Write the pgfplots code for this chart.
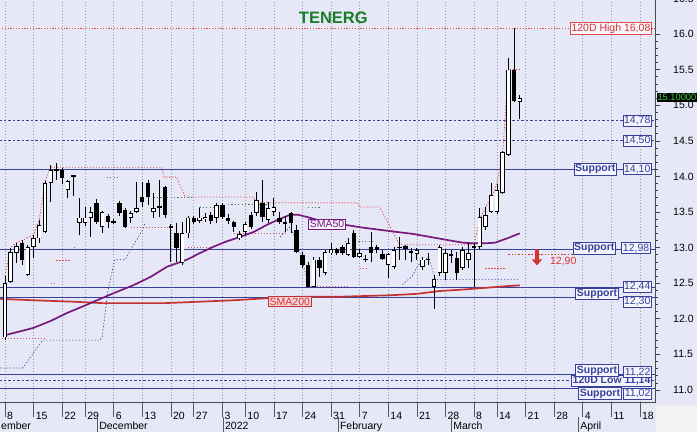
\documentclass[border=0pt]{standalone}
\usepackage{fontspec}
\setmainfont{Liberation Sans}
\usepackage{pgfplots}
\usepackage{pgfplotstable}
\pgfplotsset{compat=1.18}
\usetikzlibrary{arrows.meta}

\definecolor{bgcol}{RGB}{230,232,248}
\definecolor{supblue}{RGB}{55,65,155}
\definecolor{hired}{RGB}{225,75,75}
\definecolor{labred}{RGB}{215,50,50}
\definecolor{smapurple}{RGB}{120,25,125}
\definecolor{smared}{RGB}{195,50,50}
\definecolor{gridgray}{RGB}{150,150,165}
\definecolor{titlegreen}{RGB}{25,125,40}
\definecolor{dotgreen}{RGB}{50,135,60}
\definecolor{cornergray}{RGB}{242,242,245}

\newcommand{\lbl}{\fontsize{10.5}{12}\selectfont}

\pgfplotstableread{
x o h l c
0 11.74 12.60 11.70 12.50
1 12.52 13.00 12.50 12.94
2 12.93 13.07 12.78 13.02
3 13.06 13.10 12.75 12.83
4 12.62 13.03 12.60 13.01
5 13.01 13.18 12.85 13.13
6 13.13 13.39 13.06 13.32
7 13.22 13.93 13.20 13.91
8 13.91 14.16 13.64 14.09
9 14.10 14.19 13.95 14.08
10 14.09 14.12 13.90 13.98
11 13.81 13.95 13.70 13.93
12 14.01 14.02 13.72 14.00
13 13.35 13.70 13.18 13.42
14 13.35 13.57 13.30 13.42
15 13.42 13.57 13.15 13.50
16 13.63 13.68 13.33 13.36
17 13.29 13.52 13.20 13.50
18 13.44 13.47 13.28 13.36
19 13.37 13.40 13.33 13.36
20 13.63 13.65 13.45 13.49
21 13.53 13.55 13.27 13.29
22 13.42 13.52 13.35 13.49
23 13.50 13.92 13.48 13.55
24 13.71 13.92 13.57 13.64
25 13.91 13.95 13.60 13.71
26 13.50 13.77 13.42 13.56
27 13.57 13.95 13.43 13.58
28 13.85 13.87 13.42 13.46
29 13.31 13.33 12.80 13.27
30 13.20 13.35 12.80 12.99
31 12.78 13.36 12.76 13.20
32 13.20 13.44 13.13 13.42
33 13.42 13.45 13.33 13.36
34 13.38 13.56 13.35 13.42
35 13.40 13.48 13.36 13.43
36 13.46 13.50 13.33 13.37
37 13.42 13.62 13.35 13.60
38 13.60 13.62 13.40 13.43
39 13.42 13.47 13.33 13.37
40 13.36 13.38 13.22 13.29
41 13.13 13.23 13.10 13.19
42 13.22 13.36 13.18 13.33
43 13.46 13.50 13.26 13.29
44 13.49 13.78 13.45 13.67
45 13.63 13.95 13.36 13.43
46 13.39 13.64 13.35 13.56
47 13.50 13.70 13.45 13.57
48 13.42 13.50 13.33 13.36
49 13.35 13.44 13.22 13.34
50 13.49 13.50 13.20 13.35
51 13.25 13.32 12.92 12.94
52 12.90 12.94 12.72 12.76
53 12.76 12.80 12.44 12.45
54 12.45 12.87 12.44 12.83
55 12.83 12.87 12.59 12.71
56 12.64 12.96 12.62 12.94
57 12.92 13.06 12.90 12.98
58 12.98 13.00 12.90 12.93
59 13.01 13.03 12.90 12.93
60 12.90 13.13 12.88 13.06
61 13.20 13.25 12.85 12.87
62 12.87 12.98 12.85 12.92
63 12.84 12.90 12.80 12.83
64 13.01 13.22 12.80 12.92
65 13.01 13.03 12.92 12.96
66 12.91 12.96 12.82 12.84
67 12.76 12.93 12.57 12.91
68 12.73 13.01 12.70 12.97
69 13.00 13.15 12.83 13.01
70 13.02 13.04 12.83 12.98
71 12.95 13.00 12.80 12.94
72 12.91 13.00 12.83 12.97
73 12.73 12.87 12.69 12.83
74 12.83 12.92 12.76 12.84
75 12.45 12.61 12.14 12.56
76 12.64 13.04 12.60 13.01
77 12.64 12.98 12.55 12.92
78 12.90 12.97 12.78 12.90
79 12.85 12.94 12.55 12.64
80 12.71 13.01 12.68 12.97
81 12.83 13.06 12.71 12.92
82 13.00 13.05 12.45 13.02
83 13.01 13.56 12.98 13.43
84 13.29 13.57 13.25 13.46
85 13.50 13.91 13.48 13.74
86 13.50 13.90 13.47 13.81
87 13.77 14.36 13.75 14.34
88 14.30 15.66 14.28 15.50
89 15.50 16.08 15.05 15.06
90 15.05 15.15 14.80 15.10
}\candles

\tikzset{
  lab/.style={draw=supblue, fill=white!55!bgcol, text=supblue, inner sep=1.2pt, line width=0.7pt, font=\lbl},
  labb/.style={lab, font=\lbl\bfseries},
}

\begin{document}
\begin{tikzpicture}
\useasboundingbox (0pt,0pt) rectangle (697pt,432pt);
\fill[bgcol] (0pt,0pt) rectangle (697pt,432pt);
\fill[cornergray] (655.5pt,0pt) rectangle (697pt,27pt);
\begin{axis}[
  at={(0pt,30pt)}, anchor=south west,
  scale only axis, width=655pt, height=402pt,
  xmin=-0.87, xmax=113.64, ymin=10.831, ymax=16.478,
  clip mode=individual,
  axis line style={draw=none},
  xtick={0,5,10,14,19,24,29,33,38,42,47,52,57,62,67,72,77,82,86,91,96,101,106,111},
  xticklabels={8,15,22,29,6,13,20,27,3,10,17,24,31,7,14,21,28,8,14,21,28,4,11,18},
  xtick pos=left, xtick style={draw=none},
  xmajorgrids, major grid style={gridgray, dash pattern=on 1pt off 2pt, line width=0.5pt},
  xticklabel style={font=\lbl, anchor=base west, inner sep=0pt, xshift=2pt, yshift=-13pt},
  ytick={11,11.5,...,16},
  minor y tick num=4,
  ytick pos=right, yticklabel pos=right,
  tick align=outside,
  major tick length=5pt, minor tick length=3pt,
  ytick style={black!75, line width=0.6pt},
  yticklabel style={font=\lbl, anchor=west, inner sep=0pt, xshift=13pt,
    /pgf/number format/fixed, /pgf/number format/fixed zerofill,
    /pgf/number format/precision=1},
  /pgf/number format/assume math mode=true,
]

% horizontal reference lines
\addplot[hired, line width=0.8pt, dash pattern=on 1.2pt off 1.6pt] coordinates {(-1,16.08) (114,16.08)};
\addplot[supblue, line width=0.8pt, dash pattern=on 2.5pt off 2pt] coordinates {(-1,14.78) (114,14.78)};
\addplot[supblue, line width=0.8pt, dash pattern=on 2.5pt off 2pt] coordinates {(-1,14.50) (114,14.50)};
\addplot[supblue, line width=0.9pt] coordinates {(-1,14.10) (114,14.10)};
\addplot[supblue, line width=0.9pt] coordinates {(-1,12.98) (114,12.98)};
\addplot[supblue, line width=0.9pt] coordinates {(-1,12.44) (114,12.44)};
\addplot[supblue, line width=0.9pt] coordinates {(-1,12.30) (114,12.30)};
\addplot[supblue, line width=0.9pt] coordinates {(-1,11.22) (114,11.22)};
\addplot[supblue, line width=0.8pt, dash pattern=on 2.5pt off 2pt] coordinates {(-1,11.14) (114,11.14)};
\addplot[supblue, line width=0.9pt] coordinates {(-1,11.02) (114,11.02)};

% red dotted channel (upper)
\addplot[hired, line width=0.8pt, dash pattern=on 1.2pt off 1.8pt] coordinates {
 (0,12.60) (1,13.00) (2,13.07) (3,13.10) (5,13.18) (6,13.39) (7,13.93) (8,14.13)
 (27.4,14.13) (27.8,13.99) (30,13.99) (31.5,13.71) (43.4,13.71) (44,13.63) (61.5,13.63)
 (62,13.57) (65.5,13.57) (69,13.04) (82,13.04) (83,13.40) (84,13.56) (85,13.70) (86,13.90)
 (87,14.30) (88,15.50) (90,15.50)};
% red dotted segments (lower)
\addplot[hired, line width=0.8pt, dash pattern=on 1.2pt off 1.8pt, unbounded coords=jump] coordinates {
 (-0.6,11.73) (7,11.73) (7.5,nan)
 (8.0,12.50) (8.6,12.50) (8.8,nan)
 (9,12.82) (11.4,12.82) (11.6,nan)
 (12,13.00) (12.5,13.00) (12.7,nan)
 (22,13.29) (28.5,13.29) (29,nan)
 (32,13.00) (36.5,13.00) (37,nan)
 (40,13.20) (49,13.20) (49.5,nan)
 (53,12.46) (60,12.46) (60.5,nan)
 (62,12.71) (63.5,12.71) (64,nan)
 (84,12.71) (87.5,12.71)};
% green dotted segments
\addplot[dotgreen, line width=0.8pt, dash pattern=on 1.2pt off 2.2pt, unbounded coords=jump] coordinates {
 (17.8,13.99) (20,13.99) (20.5,nan)
 (26,13.71) (33,13.71) (33.5,nan)
 (34,13.57) (37,13.57) (37.5,nan)
 (39,13.60) (46,13.60) (46.5,nan)
 (53,13.57) (55,13.57) (55.5,nan)
 (59.4,13.08) (64.3,13.08)};
% dark blue dotted segments
\addplot[supblue, line width=0.7pt, dash pattern=on 1.2pt off 2pt, unbounded coords=jump] coordinates {
 (-0.9,11.31) (3.1,11.31) (6.6,11.70) (16.6,11.70) (17,11.75) (18,12.40) (19.2,12.83)
 (21,12.83) (22.2,13.00) (24.1,13.25) (24.5,13.35) (25,nan)
 (48.1,13.15) (49.8,13.29) (51,13.10) (53,12.50) (53.5,nan)
 (69.5,12.48) (71.2,12.60) (72.2,12.75) (73.8,12.85) (74.3,12.80) (75.2,12.56) (75.4,nan)
 (75.5,12.55) (90,12.55)};
% sell signal level
\addplot[labred, line width=1pt, dash pattern=on 1.5pt off 1.8pt] coordinates {(88,12.90) (99.3,12.90)};

% moving averages
\addplot[smared, line width=1.7pt] coordinates {
 (-0.87,12.28) (5,12.26) (12,12.24) (17,12.22) (28,12.22) (34,12.24) (40,12.26) (46,12.29)
 (51.6,12.31) (58.6,12.31) (67.3,12.33) (72,12.35) (76,12.39) (80,12.41) (84.8,12.44)
 (88,12.46) (90,12.47)};
\addplot[smapurple, line width=1.7pt] coordinates {
 (0,11.77) (2,11.81) (4.9,11.87) (8,11.97) (10.8,12.08) (13.5,12.17) (16.1,12.26) (19,12.36)
 (22.4,12.47) (25.5,12.59) (28.3,12.73) (31.8,12.83) (34,12.92) (36.4,13.01) (38.5,13.08)
 (41.1,13.15) (43.5,13.22) (45.8,13.32) (48,13.40) (49.8,13.46) (51.3,13.46) (52.8,13.43)
 (55,13.38) (57,13.34) (59.4,13.32) (62.6,13.28) (65.5,13.25) (68.5,13.22) (71.5,13.19)
 (74.3,13.15) (77.8,13.10) (80,13.07) (81.8,13.06) (84,13.06) (85.7,13.07) (87.8,13.13)
 (90,13.20)};

% candles: wicks, bodies, hollow insides
\addplot[draw=none, forget plot, error bars/.cd, y dir=both, y explicit, error mark=none,
  error bar style={draw=black, line width=0.8pt}]
  table[x=x, y expr={(\thisrow{h}+\thisrow{l})/2}, y error expr={(\thisrow{h}-\thisrow{l})/2}] {\candles};
\addplot[draw=none, forget plot, error bars/.cd, y dir=both, y explicit, error mark=none,
  error bar style={draw=black, line width=4.4pt}]
  table[x=x, y expr={(\thisrow{o}+\thisrow{c})/2}, y error expr={max(abs(\thisrow{c}-\thisrow{o})/2,0.008)}] {\candles};
\addplot[draw=none, forget plot, error bars/.cd, y dir=both, y explicit, error mark=none,
  error bar style={draw=white, line width=2.9pt}]
  table[x=x, y expr={(\thisrow{c}-\thisrow{o}>0.025) ? (\thisrow{o}+\thisrow{c})/2 : 100},
        y error expr={max((\thisrow{c}-\thisrow{o})/2-0.011,0.001)}] {\candles};

% axis lines
\draw[black!70, line width=0.6pt] (axis cs:-0.87,10.831) -- (axis cs:113.64,10.831) -- (axis cs:113.64,16.478);
% week separators
\pgfplotsinvokeforeach{0,5,10,14,19,24,29,33,38,42,47,52,57,62,67,72,77,82,86,91,96,101,106,111}{
  \draw[black!65, line width=0.6pt] (axis cs:#1,10.831) -- ([yshift=-15pt]axis cs:#1,10.831);
}
% month separators and names
\pgfplotsinvokeforeach{16.1,38.1,58.2,78,100.2}{
  \draw[black!65, line width=0.6pt] ([yshift=-15pt]axis cs:#1,10.831) -- ([yshift=-30pt]axis cs:#1,10.831);
}
\node[font=\lbl, anchor=base west, inner sep=0pt] at ([xshift=1pt,yshift=-27.5pt]axis cs:-0.87,10.831) {ember};
\node[font=\lbl, anchor=base west, inner sep=0pt] at ([xshift=2pt,yshift=-27.5pt]axis cs:16.1,10.831) {December};
\node[font=\lbl, anchor=base west, inner sep=0pt] at ([xshift=2pt,yshift=-27.5pt]axis cs:38.1,10.831) {2022};
\node[font=\lbl, anchor=base west, inner sep=0pt] at ([xshift=2pt,yshift=-27.5pt]axis cs:58.2,10.831) {February};
\node[font=\lbl, anchor=base west, inner sep=0pt] at ([xshift=2pt,yshift=-27.5pt]axis cs:78,10.831) {March};
\node[font=\lbl, anchor=base west, inner sep=0pt] at ([xshift=2pt,yshift=-27.5pt]axis cs:100.2,10.831) {April};
\node[font=\lbl, anchor=west, inner sep=0pt] at ([xshift=18pt]axis cs:113.64,16.5) {16.5};

% title
\node[font=\fontsize{16.5}{18}\selectfont\bfseries, text=titlegreen] at (axis cs:57.4,16.23) {TENERG};

% level labels
\node[lab, draw=hired, text=labred, fill=white!65!bgcol, anchor=east] at (axis cs:113.1,16.08) {120D High 16,08};
\node[lab, anchor=east] at (axis cs:113.1,14.78) {14,78};
\node[lab, anchor=east] at (axis cs:113.1,14.50) {14,50};
\node[labb, anchor=east] at (axis cs:107.0,14.10) {Support};
\node[lab, anchor=east] at (axis cs:113.1,14.10) {14,10};
\node[labb, anchor=east] at (axis cs:106.8,12.99) {Support};
\node[lab, anchor=east] at (axis cs:112.9,12.99) {12,98};
\node[lab, anchor=east] at (axis cs:113.1,12.45) {12,44};
\node[labb, anchor=east] at (axis cs:107.3,12.35) {Support};
\node[lab, anchor=east] at (axis cs:113.1,12.24) {12,30};
\node[labb, anchor=east] at (axis cs:113.1,11.13) {120D Low 11,14};
\node[labb, anchor=east] at (axis cs:107.3,11.27) {Support};
\node[lab, anchor=east] at (axis cs:113.1,11.25) {11,22};
\node[labb, anchor=east] at (axis cs:107.8,10.95) {Support};
\node[lab, anchor=east] at (axis cs:113.1,10.95) {11,02};

% moving average labels
\node[draw=smapurple, fill=white!55!bgcol, text=smapurple, font=\lbl, inner sep=1.2pt, line width=0.7pt] at (axis cs:56.3,13.33) {SMA50};
\node[draw=smared, fill={rgb,255:red,245;green,212;blue,218}, text=labred, font=\lbl, inner sep=1.4pt, line width=0.7pt] at (axis cs:49.8,12.24) {SMA200};

% sell signal
\draw[labred, line width=3.5pt, -{Triangle[width=10pt,length=6pt]}] (axis cs:93,12.98) -- (axis cs:93,12.75);
\node[font=\lbl, text=labred] at (axis cs:97.6,12.81) {12,90};

% last price tag
\node[fill=black, text={rgb,255:red,60;green,210;blue,60}, font=\fontsize{9.3}{10}\selectfont, inner sep=1pt, anchor=west] at ([xshift=1.3pt]axis cs:113.64,15.11) {15.10000};
\end{axis}
\end{tikzpicture}
\end{document}
